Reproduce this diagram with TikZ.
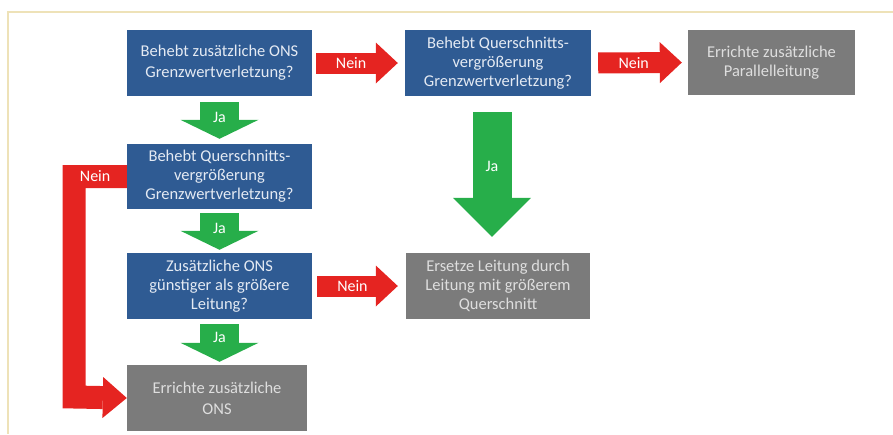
\documentclass[tikz,border=0pt]{standalone}
\usepackage{fontspec}
\setmainfont{Carlito}
\usetikzlibrary{arrows.meta}

\definecolor{askblue}{RGB}{47,91,147}
\definecolor{actgrey}{RGB}{123,123,123}
\definecolor{neinred}{RGB}{229,36,33}
\definecolor{jagreen}{RGB}{39,174,74}
\definecolor{frametan}{RGB}{238,226,184}
\definecolor{asktext}{RGB}{228,234,243}
\definecolor{acttext}{RGB}{222,222,222}

\begin{document}
\begin{tikzpicture}[x=1pt, y=-1pt,
  box/.style={rectangle, inner sep=0, align=center, font=\fontsize{16.5}{19}\selectfont},
  ask/.style={box, fill=askblue, text=asktext},
  act/.style={box, fill=actgrey, text=acttext},
  tag/.style={text=white, inner sep=0, font=\fontsize{16}{16}\selectfont},
  neinarrow/.style={arrowred, line width=21pt, line join=miter,
    -{Triangle[length=22pt, width=41pt, line width=0pt]}},
  arrowred/.style={draw=neinred, color=neinred},
  jaarrow/.style={draw=jagreen, color=jagreen, line width=39pt,
    -{Triangle[length=19pt, width=78pt, line width=0pt]}}
]
\useasboundingbox (0,0) rectangle (893,434);
\draw[frametan, line width=1.5pt] (8,434) -- (8,12) -- (893,12);

% questions
\node[ask, minimum width=185pt, minimum height=66pt] (qa) at (219.5,63) {Behebt zusätzliche ONS\\[2pt]Grenzwertverletzung?};
\node[ask, minimum width=186pt, minimum height=66pt] (qb) at (498,63) {Behebt Querschnitts-\\vergrößerung\\Grenzwertverletzung?};
\node[ask, minimum width=185pt, minimum height=65pt] (qc) at (219.5,176.5) {Behebt Querschnitts-\\vergrößerung\\Grenzwertverletzung?};
\node[ask, minimum width=185pt, minimum height=66pt] (qd) at (219.5,286) {Zusätzliche ONS\\günstiger als größere\\Leitung?};

% actions
\node[act, minimum width=167pt, minimum height=65pt] (par) at (771.5,62.5) {Errichte zusätzliche\\Parallelleitung};
\node[act, minimum width=184pt, minimum height=66pt] (ers) at (498,286) {Ersetze Leitung durch\\Leitung mit größerem\\Querschnitt};
\node[act, minimum width=180pt, minimum height=66pt] (ons) at (217,398) {Errichte zusätzliche\\[2pt]ONS};

\coordinate (turn) at (74,397);

% Nein
\draw[neinarrow, shorten <=4pt, shorten >=7pt] (qa.east) -- node[tag, pos=.42] {Nein} (qb.west);
\draw[neinarrow, shorten <=7pt, shorten >=6pt] (qb.east) -- node[tag, pos=.44] {Nein} (par.west);
\draw[neinarrow, shorten <=5pt, shorten >=8pt] (qd.east) -- node[tag, pos=.43] {Nein} (ers.west);
\draw[neinarrow, line width=23pt, -{Triangle[length=24pt, width=41pt, line width=0pt]}]
  (qc.west) -| node[tag, pos=.3] {Nein} (turn) -- (ons.west);

% Ja
\draw[jaarrow, shorten <=6pt, shorten >=5pt] (qa.south) -- node[tag, pos=.44] {Ja} (qc.north);
\draw[jaarrow, shorten <=4pt, shorten >=3pt] (qc.south) -- node[tag, pos=.43] {Ja} (qd.north);
\draw[jaarrow, shorten <=5pt, shorten >=3pt] (qd.south) -- node[tag, pos=.41] {Ja} (ons.north -| qd.south);
\draw[jaarrow, shorten <=16pt, shorten >=16pt, -{Triangle[length=39pt, width=78pt, line width=0pt]}]
  ([xshift=-6pt]qb.south) -- node[tag, pos=.45] {Ja} ([xshift=-6pt]ers.north);

\end{tikzpicture}
\end{document}
